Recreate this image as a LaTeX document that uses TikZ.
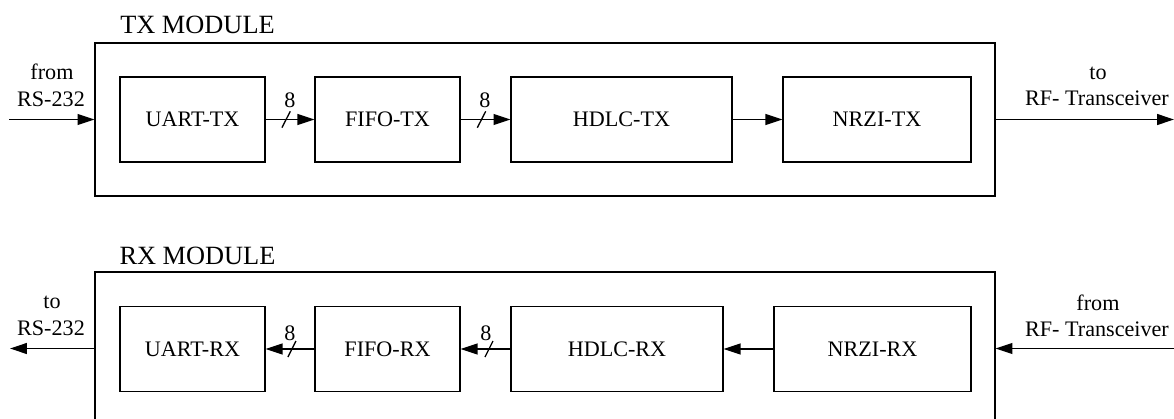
\documentclass[tikz,border=0pt]{standalone}
\usepackage{fontspec}
\setmainfont{Liberation Serif}
\usetikzlibrary{arrows.meta,calc}
\begin{document}
\begin{tikzpicture}[x=0.02cm,y=-0.02cm,
  every node/.style={font=\fontsize{12.6}{15.1}\selectfont},
  block/.style={draw,line width=0.75pt,inner sep=0pt,minimum height=1.7cm},
  module/.style={draw,line width=0.75pt,inner sep=0pt,minimum width=18cm,minimum height=3.06cm},
  title/.style={font=\fontsize{15}{18}\selectfont,inner sep=0pt},
  lbl/.style={inner sep=0pt,anchor=base},
  arr/.style={line width=0.75pt,-{Triangle[length=9.6pt,width=6.2pt]}},
  slash/.style={line width=0.75pt}]
\useasboundingbox (0,0) rectangle (1174,419);
\clip (0,0) rectangle (1174,419);
% ---------- TX ----------
\node[title] (txtitle) at (197.5,25) {TX MODULE};
\node[module] (txm) at (545,119.5) {};
\node[block,minimum width=2.9cm]  (uarttx) at (192.5,119.5) {UART-TX};
\node[block,minimum width=2.9cm]  (fifotx) at (387.5,119.5) {FIFO-TX};
\node[block,minimum width=4.42cm] (hdlctx) at (621.5,119.5) {HDLC-TX};
\node[block,minimum width=3.76cm] (nrzitx) at (877,119.5) {NRZI-TX};
\coordinate (txin) at (9,119.5);
\coordinate (txout) at (1174,119.5);
\node[lbl] (txinl1) at (52,79) {from};
\node[lbl] (txinl2) at (51,106) {RS-232};
\node[lbl] (txoutl1) at (1098,79) {to};
\node[lbl] (txoutl2) at (1097,105) {RF- Transceiver};
\draw[arr] (txin) -- (txm.west);
\draw[arr] (txm.east) -- (txout);
\draw[arr] (uarttx.east) -- (fifotx.west);
\draw[arr] (fifotx.east) -- (hdlctx.west);
\draw[arr] (hdlctx.east) -- (nrzitx.west);
\draw[slash] ($(uarttx.east)!0.42!(fifotx.west)+(-4.2,8.2)$) -- ++(8.4,-16.4);
\draw[slash] ($(fifotx.east)!0.42!(hdlctx.west)+(-4.2,8.2)$) -- ++(8.4,-16.4);
\node[inner sep=0pt] (b1) at ($(uarttx.east)!0.5!(fifotx.west)+(0,-19.5)$) {8};
\node[inner sep=0pt] (b2) at ($(fifotx.east)!0.49!(hdlctx.west)+(0,-19.5)$) {8};
% ---------- RX ----------
\node[title] (rxtitle) at (197.5,255.5) {RX MODULE};
\node[module] (rxm) at (545,348.5) {};
\node[block,minimum width=2.9cm]  (uartrx) at (192.5,349) {UART-RX};
\node[block,minimum width=2.9cm]  (fiforx) at (387.5,349) {FIFO-RX};
\node[block,minimum width=4.24cm] (hdlcrx) at (617,349) {HDLC-RX};
\node[block,minimum width=3.94cm] (nrzirx) at (872.5,349) {NRZI-RX};
\coordinate (rxout) at (10,348.5);
\coordinate (rxin) at (1174,348.5);
\node[lbl] (rxoutl1) at (52,308) {to};
\node[lbl] (rxoutl2) at (51,335) {RS-232};
\node[lbl] (rxinl1) at (1098,310) {from};
\node[lbl] (rxinl2) at (1097,336) {RF- Transceiver};
\draw[arr] (rxm.west) -- (rxout);
\draw[arr] (rxin) -- (rxm.east);
\draw[arr] (fiforx.west) -- (uartrx.east);
\draw[arr] (hdlcrx.west) -- (fiforx.east);
\draw[arr] (nrzirx.west) -- (hdlcrx.east);
\draw[slash] ($(fiforx.west)!0.46!(uartrx.east)+(-4,8)$) -- ++(8,-16);
\draw[slash] ($(hdlcrx.west)!0.43!(fiforx.east)+(-4,8)$) -- ++(8,-16);
\node[inner sep=0pt] (b3) at ($(fiforx.west)!0.5!(uartrx.east)+(0,-16)$) {8};
\node[inner sep=0pt] (b4) at ($(hdlcrx.west)!0.49!(fiforx.east)+(0,-16)$) {8};
\end{tikzpicture}
\end{document}
